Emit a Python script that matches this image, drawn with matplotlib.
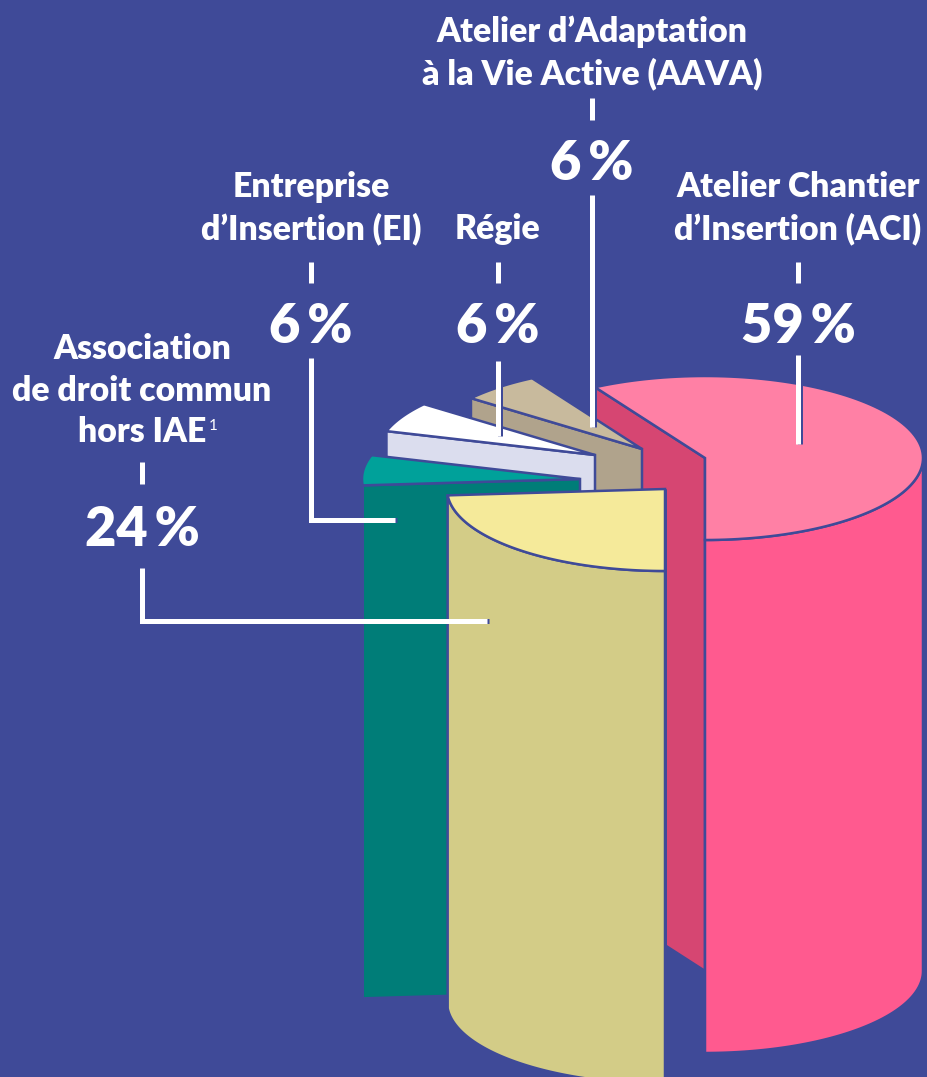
import numpy as np
import matplotlib as mpl
mpl.use('Agg')
import matplotlib.pyplot as plt
from matplotlib.patches import Polygon

# valeurs du graphique
categories = ["Atelier Chantier\nd’Insertion (ACI)", "Association\nde droit commun\nhors IAE",
              "Entreprise\nd’Insertion (EI)", "Régie", "Atelier d’Adaptation\nà la Vie Active (AAVA)"]
parts = [59, 24, 6, 6, 6]
pct_labels = ["59\u2009%", "24\u2009%", "6\u2009%", "6\u2009%", "6\u2009%"]

# style
BG = '#3F4A98'
couleurs_dessus = ['#FF80A5', '#F5EA9A', '#00A19A', '#FFFFFF', '#C8BA9D']
couleurs_mur = ['#FF5A8F', '#D3CC87', '#007D78', '#DBDDEE', '#B0A38C']
couleurs_coupe = ['#D64672', '#D3CC87', '#007D78', '#DBDDEE', '#B0A38C']

# centre de chaque part sur la page (pixels) : le camembert est eclate
centres = [(705, 458), (665, 489), (580, 479), (595, 455), (642, 449)]
A, B, H = 218, 82, 513
ordre = [0, 4, 3, 2, 1]  # du fond vers l'avant

# annotations : y des lignes de texte, y du nombre, traits
bases_texte = [[197, 239], [359, 401, 442], [197, 239], [239], [42, 84]]
x_texte = [798, 142, 311, 498, 592]
bases_pct = [343, 546, 343, 343, 180]
petits_traits = [(262, 283), (462, 484), (262, 283), (262, 283), (98, 120)]
traits = [[(798, 355), (798, 444)],
          [(142, 568), (142, 621), (487, 621)],
          [(311, 358), (311, 520), (395, 520)],
          [(498, 361), (498, 436)],
          [(592, 195), (592, 427)]]

plt.rcParams['font.family'] = ['Lato', 'DejaVu Sans']

fig = plt.figure(figsize=(9.28, 10.77), dpi=100, facecolor=BG)
ax = fig.add_axes([0, 0, 1, 1])
ax.set_xlim(0, 928)
ax.set_ylim(1077, 0)
ax.axis('off')

# angles des parts : la premiere part va de -90 vers la droite, les autres
# tournent depuis le bas dans l'autre sens
ang = np.array(parts) / sum(parts) * 360
bornes = [(-90.0, -90.0 + ang[0])]
t = 270.0
for a in ang[1:]:
    bornes.append((t - a, t))
    t -= a


def point(c, t):
    t = np.radians(t)
    return np.column_stack([c[0] + A * np.cos(t), c[1] - B * np.sin(t)])


def poly(pts, col, z):
    ax.add_patch(Polygon(pts, closed=True, fc=col, ec=BG, lw=1.8, joinstyle='miter', zorder=z))


for z, i in enumerate(ordre):
    c = centres[i]
    t0, t1 = bornes[i]
    # face de coupe visible, cote t1
    bord = point(c, t1)[0]
    poly([bord, c, (c[0], c[1] + H), (bord[0], bord[1] + H)], couleurs_coupe[i], z * 3 + 1)
    # mur exterieur, seulement la moitie avant de l'ellipse
    if i == 0:
        ts = np.linspace(-90, 0, 80)
    elif i == 1:
        ts = np.linspace(t0, t1, 80)
    elif i == 2:
        ts = np.linspace(180, t1, 20)
    else:
        ts = None
    if ts is not None:
        haut = point(c, ts)
        bas = haut + [0, H]
        poly(np.vstack([haut, bas[::-1]]), couleurs_mur[i], z * 3 + 2)
    # dessus
    ts = np.linspace(t0, t1, 120)
    poly(np.vstack([[c], point(c, ts)]), couleurs_dessus[i], z * 3 + 3)

for i in range(len(parts)):
    lignes = categories[i].split('\n')
    for lig, y in zip(lignes, bases_texte[i]):
        ax.text(x_texte[i], y, lig, color='white', fontsize=24.3, fontweight=800,
                ha='center', va='baseline', zorder=50)
    ax.text(x_texte[i], bases_pct[i], pct_labels[i], color='white', fontsize=39, fontweight=800,
            ha='center', va='baseline', zorder=50)
    ax.plot([x_texte[i]] * 2, petits_traits[i], color='white', lw=3.6, solid_capstyle='butt', zorder=50)
    xs, ys = zip(*traits[i])
    # petite ombre bleue a droite du trait
    ax.plot(np.array(xs) + 2, ys, color=BG, lw=3.6, solid_capstyle='butt', solid_joinstyle='miter', zorder=49)
    ax.plot(xs, ys, color='white', lw=3.6, solid_capstyle='butt', solid_joinstyle='miter', zorder=50)

ax.text(213, 430, "1", color='white', fontsize=11, ha='center', va='baseline', zorder=50)

fig.savefig('out.png', facecolor=BG)
